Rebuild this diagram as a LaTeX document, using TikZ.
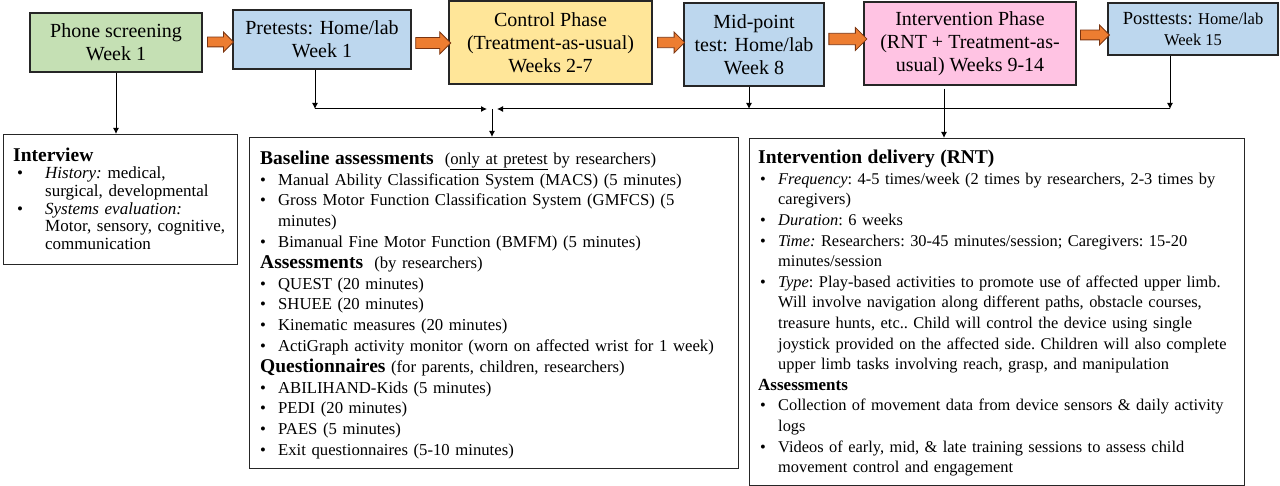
\documentclass[tikz,border=0pt]{standalone}
\usepackage{fontspec}
\setmainfont{Liberation Serif}
\usetikzlibrary{shapes.arrows,arrows.meta}
\definecolor{gr}{HTML}{C5E0B4}
\definecolor{bl}{HTML}{BDD7EE}
\definecolor{ye}{HTML}{FFE699}
\definecolor{pk}{HTML}{FFC3E3}
\definecolor{orA}{HTML}{ED7D31}
\definecolor{orD}{HTML}{7A3410}
\newcommand{\itm}[3]{\par\noindent\makebox[#2][l]{\hspace*{#1}\textbullet}\parbox[t]{\dimexpr\linewidth-#2\relax}{\raggedright\frenchspacing #3\strut}\par\prevdepth=\dp\strutbox}
\newcommand{\hfont}{\fontsize{19.5}{20.8}\selectfont\bfseries}
\newcommand{\nl}{\newline}
\begin{document}
\begin{tikzpicture}[x=1pt,y=-1pt,
  phase/.style={draw=black!85, line width=1.1pt, align=center, inner sep=0pt,
    font=\fontsize{20}{23}\selectfont},
  panel/.style={draw=black!85, line width=1.2pt, inner sep=0pt, anchor=north west},
  txt/.style={inner sep=0pt, anchor=north west},
  blk/.style={single arrow, draw=orD, fill=orA, line width=0.8pt, inner sep=4.5pt,
    single arrow head extend=5pt, minimum width=20pt, shape border rotate=0},
  conn/.style={line width=1pt, -{Latex[length=6pt,width=6pt]}}
]
\useasboundingbox (0,0) rectangle (1280,486);

% top phase boxes
\node[phase, fill=gr, minimum width=172pt, minimum height=59pt] (phone) at (116,42.5) {Phone screening\\Week 1};
\node[phase, fill=bl, minimum width=178pt, minimum height=59pt] (pre) at (322,39.5) {Pretests: Home/lab\\Week 1};
\node[phase, fill=ye, minimum width=203pt, minimum height=83pt] (ctl) at (550.5,42.5) {Control Phase\\(Treatment-as-usual)\\Weeks 2-7};
\node[phase, fill=bl, minimum width=140pt, minimum height=83pt] (mid) at (754,44.5) {Mid-point\\test: Home/lab\\Week 8};
\node[phase, fill=pk, minimum width=212pt, minimum height=83pt] (int) at (970,43.5) {Intervention Phase\\(RNT + Treatment-as-\\usual) Weeks 9-14};
\node[phase, fill=bl, minimum width=170pt, minimum height=52pt, font=\fontsize{16.5}{20.5}\selectfont] (post) at (1193,29) {{\fontsize{18.5}{20.5}\selectfont Posttests:} Home/lab\\Week 15};

% block arrows
\node[blk, minimum height=26pt, minimum width=19pt] (a1) at (218,42) {};
\node[blk, minimum height=35pt, minimum width=22pt] (a2) at (430.5,43) {};
\node[blk, minimum height=27pt, minimum width=21pt] (a3) at (668.5,42.5) {};
\node[blk, minimum height=38pt, minimum width=23pt] (a4) at (845,39) {};
\node[blk, minimum height=29pt, minimum width=18pt] (a5) at (1092.5,35) {};

% bottom panels
\node[panel, minimum width=234pt, minimum height=130pt] (interview) at (3,134) {};
\node[panel, minimum width=489pt, minimum height=331pt] (base) at (249,137) {};
\node[panel, minimum width=495pt, minimum height=347pt] (del) at (749,138) {};

% junction coordinates
\coordinate (pd) at (315,109);
\coordinate (jl) at (487,109);
\coordinate (jr) at (497,109);
\coordinate (jc) at (492,109);
\coordinate (md) at (749,109);
\coordinate (pod) at (1170,109);
\coordinate (ivx) at (944,109);

% connectors
\draw[conn] (phone.south) -- (phone.south |- interview.north);
\draw[conn] (pd |- pre.south) -- (pd);
\draw[conn] (pd) -- (jl);
\draw[conn] (pod |- post.south) -- (pod);
\draw[conn] (pod) -- (jr);
\draw[conn] (md |- mid.south) -- (md);
\draw[conn] (jc) -- (jc |- base.north);
\draw[conn, shorten <=3pt] (ivx |- int.south) -- (ivx |- del.north);

% interview text
\node[txt, text width=222pt, font=\fontsize{17}{17.6}\selectfont] (tInt) at (13,147.5) {%
\raggedright\frenchspacing
{\hfont Interview}%
\itm{4pt}{32pt}{\textit{History:} medical,\nl surgical, developmental}%
\itm{4pt}{32pt}{\textit{Systems evaluation:}\nl Motor, sensory, cognitive,\nl communication}};

% baseline text
\node[txt, text width=475pt, font=\fontsize{16.7}{20.8}\selectfont] (tBase) at (260,150.5) {%
\raggedright\frenchspacing
{\hfont Baseline assessments}\ \ (\underline{only at pretest} by researchers)%
\itm{0pt}{18pt}{Manual Ability Classification System (MACS) (5 minutes)}%
\itm{0pt}{18pt}{Gross Motor Function Classification System (GMFCS) (5\nl minutes)}%
\itm{0pt}{18pt}{Bimanual Fine Motor Function (BMFM) (5 minutes)}%
\noindent{\hfont Assessments}\ \ (by researchers)%
\itm{0pt}{18pt}{QUEST (20 minutes)}%
\itm{0pt}{18pt}{SHUEE (20 minutes)}%
\itm{0pt}{18pt}{Kinematic measures (20 minutes)}%
\itm{0pt}{18pt}{ActiGraph activity monitor (worn on affected wrist for 1 week)}%
\noindent{\hfont Questionnaires} (for parents, children, researchers)%
\itm{0pt}{18pt}{ABILIHAND-Kids (5 minutes)}%
\itm{0pt}{18pt}{PEDI (20 minutes)}%
\itm{0pt}{18pt}{PAES (5 minutes)}%
\itm{0pt}{18pt}{Exit questionnaires (5-10 minutes)}};

% intervention delivery text
\node[txt, text width=484pt, font=\fontsize{16.4}{20.6}\selectfont] (tDel) at (758,150) {%
\raggedright\frenchspacing
{\hfont Intervention delivery (RNT)}%
\itm{2pt}{20pt}{\textit{Frequency}: 4-5 times/week (2 times by researchers, 2-3 times by\nl caregivers)}%
\itm{2pt}{20pt}{\textit{Duration}: 6 weeks}%
\itm{2pt}{20pt}{\textit{Time:} Researchers: 30-45 minutes/session; Caregivers: 15-20\nl minutes/session}%
\itm{2pt}{20pt}{\textit{Type}: Play-based activities to promote use of affected upper limb.\nl Will involve navigation along different paths, obstacle courses,\nl treasure hunts, etc.. Child will control the device using single\nl joystick provided on the affected side. Children will also complete\nl upper limb tasks involving reach, grasp, and manipulation}%
\noindent{\fontsize{17}{20.6}\selectfont\bfseries Assessments}%
\itm{2pt}{20pt}{Collection of movement data from device sensors \& daily activity\nl logs}%
\itm{2pt}{20pt}{Videos of early, mid, \& late training sessions to assess child\nl movement control and engagement}};
\end{tikzpicture}
\end{document}
